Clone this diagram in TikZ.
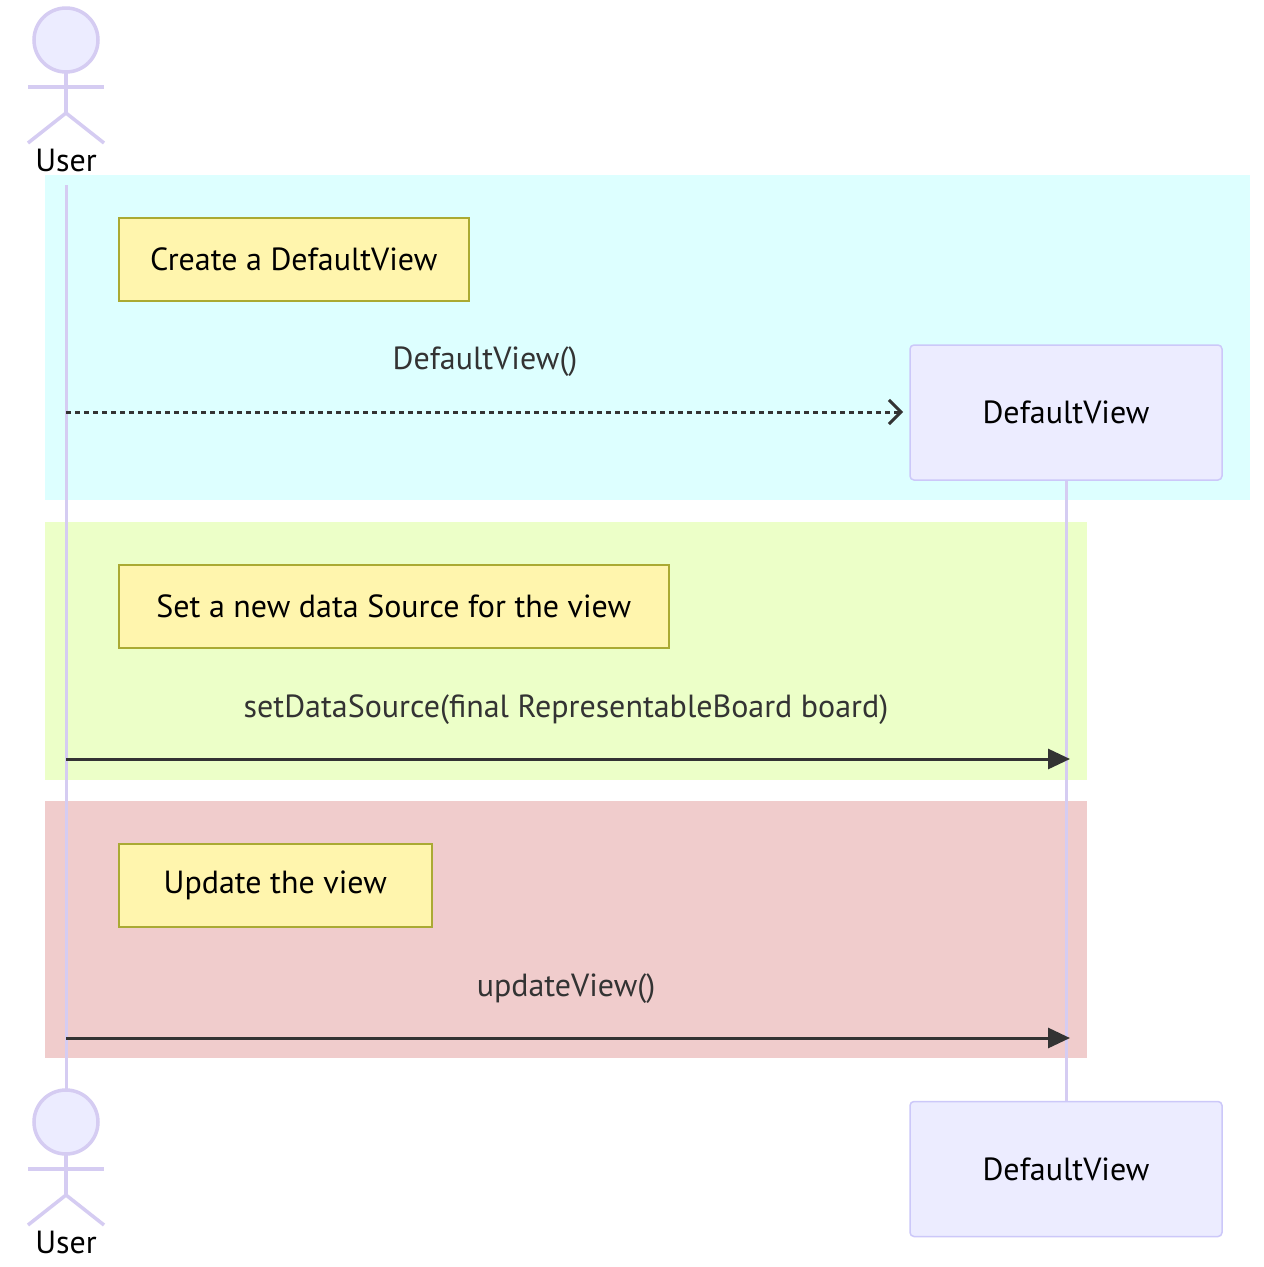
\documentclass[tikz,border=0pt]{standalone}
\usepackage{fontspec}
\setmainfont{PT Sans}
\usetikzlibrary{arrows.meta}
\definecolor{life}{HTML}{D5CCF2}
\definecolor{actorfill}{HTML}{ECECFF}
\definecolor{notefill}{HTML}{FFF5AD}
\definecolor{noteline}{HTML}{AAAA33}
\definecolor{txt}{HTML}{333333}
\tikzset{
 every node/.style={font=\fontsize{32}{38}\selectfont},
 part/.style={draw=life!80!blue!60, fill=actorfill, line width=1.5pt, rounded corners=4pt, minimum width=312pt, minimum height=135pt},
 note/.style={draw=noteline, fill=notefill, line width=1.5pt, anchor=north west, inner sep=0pt},
 msg/.style={text=txt},
 lifeline/.style={draw=life, line width=3pt},
 stick/.style={draw=life, line width=3.5pt},
}
\begin{document}
\begin{tikzpicture}[x=1pt,y=-1pt]
\useasboundingbox (0,0) rectangle (1264,1267);
\fill[white] (0,0) rectangle (1264,1267);
\fill[fill={rgb,255:red,221;green,255;blue,255}] (45,175) rectangle (1250,500);
\fill[fill={rgb,255:red,236;green,255;blue,200}] (45,522) rectangle (1087,780);
\fill[fill={rgb,255:red,240;green,204;blue,204}] (45,801) rectangle (1087,1058);
\coordinate (u1) at (66,185); \coordinate (u2) at (66,1090);
\draw[lifeline] (u1) -- (u2);
\node[part] (dv1) at (1066,412.5) {DefaultView};
\node[part] (dv2) at (1066,1169) {DefaultView};
\draw[lifeline] (dv1.south) -- (dv2.north);
\foreach \y/\n in {0/ua,1082/ub}{
 \begin{scope}[yshift=-\y pt]
 \draw[stick, fill=actorfill] (66,40) circle (32);
 \draw[stick] (66,72) -- (66,113);
 \draw[stick] (28,87) -- (104,87);
 \draw[stick] (28,143) -- (66,113) -- (104,143);
 \node (\n) at (66,160) {User};
 \end{scope}}
\node[note, minimum width=350pt, minimum height=83pt] (n1) at (118,217) {};
\node at (n1.center) {Create a DefaultView};
\node[note, minimum width=550pt, minimum height=83pt] (n2) at (118,564) {};
\node at (n2.center) {Set a new data Source for the view};
\node[note, minimum width=313pt, minimum height=83pt] (n3) at (118,843) {};
\node at (n3.center) {Update the view};
\coordinate (a1) at (66,412); \coordinate (b1) at (903,412);
\draw[txt, line width=3pt, dash pattern=on 5pt off 4pt, -{Straight Barb[length=12pt,width=24pt,line width=3pt]}] (a1) -- (b1);
\node[msg] (l1) at (485,362) {DefaultView()};
\coordinate (a2) at (66,759); \coordinate (b2) at (1070,759);
\draw[txt, line width=3pt, -{Triangle[length=22pt,width=20pt]}] (a2) -- (b2);
\node[msg] (l2) at (566,710) {setDataSource(final RepresentableBoard board)};
\coordinate (a3) at (66,1038); \coordinate (b3) at (1070,1038);
\draw[txt, line width=3pt, -{Triangle[length=22pt,width=20pt]}] (a3) -- (b3);
\node[msg] (l3) at (566,989) {updateView()};
\end{tikzpicture}
\end{document}
